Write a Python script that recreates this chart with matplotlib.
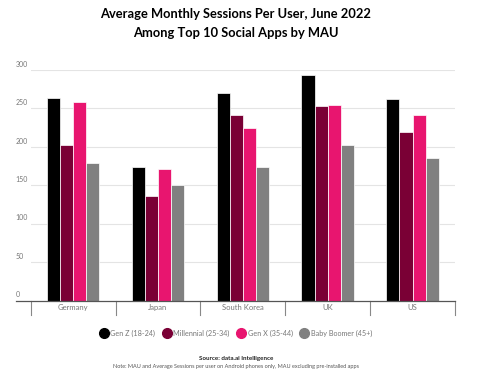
import matplotlib.pyplot as plt
import numpy as np

countries = ["Germany", "Japan", "South Korea", "UK", "US"]
groups = ["Gen Z (18-24)", "Millennial (25-34)", "Gen X (35-44)", "Baby Boomer (45+)"]
gen_z = [264, 174, 270, 293, 262]
millennial = [203, 136, 241, 253, 220]
gen_x = [258, 171, 225, 255, 241]
boomer = [179, 151, 174, 203, 185]
colors = ["#000000", "#7a0035", "#e8156f", "#808080"]
yticks = [0, 50, 100, 150, 200, 250, 300]

plt.rcParams['font.family'] = ['Lato', 'DejaVu Sans']

fig = plt.figure(figsize=(5, 3.71), dpi=100)
ax = fig.add_axes([0.0614, 0.1895, 0.8486, 0.6218])

x = np.arange(len(countries))
w = 0.155
for i, (vals, col) in enumerate(zip([gen_z, millennial, gen_x, boomer], colors)):
    ax.bar(x + (i - 1.5) * w, vals, width=w, color=col, edgecolor="white",
           linewidth=0.5, label=groups[i], zorder=3)

ax.set_xlim(-0.5, len(countries) - 0.5)
ax.set_ylim(0, 300)
for s in ax.spines.values():
    s.set_visible(False)
ax.set_xticks([])
ax.set_yticks([])
for t in yticks[1:]:
    ax.axhline(t, color="#e4e4e4", linewidth=0.8, zorder=1)
for t in yticks:
    ax.text(-0.035, t + 3, str(t), transform=ax.get_yaxis_transform(),
            ha="left", va="bottom", fontsize=5, color="#777777")

# baseline and category separators
ax.plot([-0.035, 1.0], [0, 0], transform=ax.transAxes, color="#555555",
        linewidth=0.9, clip_on=False, zorder=4)
trans = ax.get_xaxis_transform()
for b in np.arange(len(countries) + 1) - 0.5:
    ax.plot([b, b], [0, -0.062], transform=trans, color="#888888",
            linewidth=0.8, clip_on=False)
for xi, c in zip(x, countries):
    ax.text(xi, -0.03, c, transform=trans, ha="center", va="center",
            fontsize=5.5, color="#777777")

fig.text(0.472, 0.962, "Average Monthly Sessions Per User, June 2022",
         ha="center", va="center", fontsize=9.3, fontweight="bold")
fig.text(0.472, 0.912, "Among Top 10 Social Apps by MAU",
         ha="center", va="center", fontsize=9.3, fontweight="bold")

leg = fig.legend(handles=[plt.Line2D([], [], marker="o", linestyle="", markersize=7,
                                     color=c) for c in colors],
                 labels=groups, loc="center", bbox_to_anchor=(0.472, 0.102),
                 ncol=4, frameon=False, fontsize=5.2, handletextpad=0.4,
                 columnspacing=1.1, handlelength=1)
for t in leg.get_texts():
    t.set_color("#777777")

fig.text(0.472, 0.033, "Source: data.ai Intelligence", ha="center", va="center",
         fontsize=4.5, fontweight="bold", color="#222222")
fig.text(0.472, 0.012, "Note: MAU and Average Sessions per user on Android phones only, MAU excluding pre-installed apps",
         ha="center", va="center", fontsize=4, color="#555555")

fig.savefig("out.png", dpi=100)
